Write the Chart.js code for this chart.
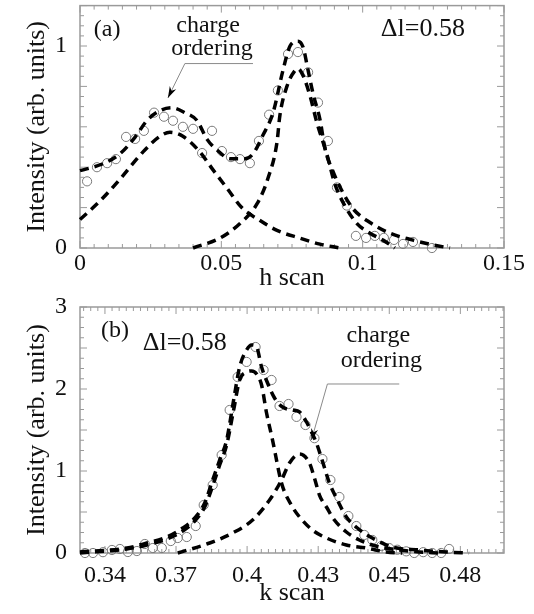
<!DOCTYPE html>
<html>
<head>
<meta charset="utf-8">
<script src="https://cdn.jsdelivr.net/npm/chart.js@4"></script>
<style>
  body { margin: 0; background: #fff; }
  canvas { position: absolute; left: 0; display: block; }
  #chartA { top: 0; }
  #chartB { top: 296px; }
</style>
</head>
<body>
<canvas id="chartA" width="534" height="296"></canvas>
<canvas id="chartB" width="534" height="318"></canvas>
<script>
// ---- (a) h scan ----
const hObs = [0.0025, 0.0060, 0.0096, 0.0127, 0.0163, 0.0195, 0.0226, 0.0262, 0.0297, 0.0329, 0.0364, 0.0400,
              0.0432, 0.0467, 0.0502, 0.0534, 0.0566, 0.0601, 0.0633, 0.0669, 0.0700, 0.0736, 0.0771, 0.0807,
              0.0842, 0.0877, 0.0909, 0.0944, 0.0976, 0.1012, 0.1043, 0.1075, 0.1111, 0.1143, 0.1178, 0.1245];
const intObsA = [0.33, 0.40, 0.42, 0.44, 0.55, 0.54, 0.58, 0.67, 0.65, 0.63, 0.60, 0.59,
                 0.47, 0.58, 0.48, 0.45, 0.44, 0.42, 0.53, 0.66, 0.78, 0.96, 0.97, 0.87,
                 0.72, 0.53, 0.30, 0.21, 0.06, 0.05, 0.06, 0.05, 0.04, 0.02, 0.03, 0.0];

const hSum = [0, 0.0081, 0.0141, 0.0195, 0.0237, 0.0283, 0.0325, 0.0371, 0.0414, 0.0449, 0.0485, 0.0531,
              0.0584, 0.0612, 0.0647, 0.0683, 0.0718, 0.0743, 0.0771, 0.0789, 0.0807, 0.0824, 0.0849, 0.0867,
              0.0895, 0.0927, 0.0966, 0.1026, 0.1097, 0.1178, 0.1249, 0.1309];
const intSumA = [0.383, 0.417, 0.466, 0.549, 0.631, 0.68, 0.694, 0.67, 0.631, 0.539, 0.485, 0.442,
                 0.442, 0.466, 0.558, 0.67, 0.879, 1.0, 1.024, 0.995, 0.879, 0.767, 0.636, 0.49,
                 0.379, 0.282, 0.194, 0.126, 0.073, 0.039, 0.015, 0.0];

const hCO = [0, 0.0071, 0.0141, 0.0223, 0.0283, 0.0318, 0.0364, 0.0424, 0.0470, 0.0520, 0.0573, 0.0637,
             0.0697, 0.0778, 0.0849, 0.0920];
const intCOA = [0.141, 0.233, 0.340, 0.476, 0.553, 0.573, 0.553, 0.476, 0.388, 0.296, 0.199, 0.136,
                0.087, 0.049, 0.019, 0.0];

const hPeak = [0.040, 0.0495, 0.0566, 0.0626, 0.0665, 0.0697, 0.0707, 0.0732, 0.0761, 0.0771, 0.0789, 0.0814,
               0.0838, 0.0874, 0.0902, 0.0937, 0.098, 0.1026, 0.1072, 0.1114];
const intPeakA = [0, 0.049, 0.121, 0.218, 0.345, 0.524, 0.655, 0.80, 0.879, 0.888, 0.854, 0.752,
                  0.621, 0.461, 0.316, 0.209, 0.121, 0.073, 0.039, 0.0];

const hTicks = [0, 0.05, 0.1, 0.15];
const hTickLabels = ['0', '0.05', '0.1', '0.15'];
const yTicksA = [0, 1];
const yTickLabelsA = ['0', '1'];

// ---- (b) k scan ----
const kObs = [0.332, 0.3352, 0.3392, 0.3428, 0.346, 0.3492, 0.3528, 0.356, 0.3592, 0.3628, 0.3664, 0.3692,
              0.3728, 0.3764, 0.3796, 0.3832, 0.3868, 0.39, 0.3932, 0.3968, 0.4004, 0.4036, 0.4068, 0.41,
              0.4136, 0.4168, 0.4204, 0.424, 0.4272, 0.4304, 0.434, 0.4376, 0.4408, 0.444, 0.4472, 0.4508,
              0.454, 0.4572, 0.4608, 0.464, 0.4676, 0.4712, 0.4748, 0.478];
const intObsB = [0, 0, 0.01, 0.037, 0.049, 0.012, 0.024, 0.11, 0.061, 0.061, 0.146, 0.183,
                 0.195, 0.329, 0.585, 0.829, 1.195, 1.744, 2.146, 2.33, 2.512, 2.232, 2.11, 1.793,
                 1.817, 1.66, 1.561, 1.40, 1.146, 0.89, 0.683, 0.451, 0.329, 0.22, 0.159, 0.085,
                 0.06, 0.04, 0.02, 0, 0.01, 0, 0, 0.049];

const kSum = [0.33, 0.3488, 0.3568, 0.3648, 0.3712, 0.376, 0.38, 0.3832, 0.386, 0.3888, 0.3916, 0.394,
              0.3968, 0.3988, 0.4008, 0.4028, 0.4052, 0.408, 0.4112, 0.4152, 0.418, 0.4208, 0.4228, 0.4248,
              0.4268, 0.43, 0.4332, 0.4368, 0.4412, 0.4472, 0.4552, 0.466, 0.4768, 0.486];
const intSumB = [0.012, 0.061, 0.122, 0.195, 0.305, 0.427, 0.61, 0.89, 1.134, 1.378, 1.866, 2.268,
                 2.476, 2.537, 2.512, 2.268, 2.073, 1.89, 1.78, 1.744, 1.72, 1.598, 1.476, 1.341,
                 1.159, 0.854, 0.646, 0.439, 0.305, 0.183, 0.073, 0.037, 0.012, 0.0];

const kPeak = [0.33, 0.3488, 0.3568, 0.3648, 0.3712, 0.376, 0.38, 0.3832, 0.386, 0.3888, 0.3916, 0.394,
               0.3968, 0.3988, 0.4008, 0.4028, 0.4048, 0.4072, 0.4108, 0.4152, 0.418, 0.4232, 0.4288, 0.4368,
               0.4448, 0.4528, 0.4592];
const intPeakB = [0.0, 0.049, 0.098, 0.171, 0.268, 0.39, 0.561, 0.817, 1.073, 1.317, 1.744, 2.11,
                  2.207, 2.22, 2.183, 2.049, 1.707, 1.378, 0.854, 0.561, 0.44, 0.28, 0.183, 0.098,
                  0.061, 0.012, 0.0];

const kCO = [0.3692, 0.382, 0.3912, 0.3992, 0.406, 0.4108, 0.414, 0.418, 0.422, 0.424, 0.426, 0.4288,
             0.432, 0.4368, 0.442, 0.45, 0.458, 0.466, 0.474];
const intCOB = [0.0, 0.122, 0.244, 0.402, 0.646, 0.89, 1.098, 1.207, 1.098, 0.915, 0.707, 0.561,
                0.402, 0.256, 0.159, 0.073, 0.037, 0.012, 0.0];

const kTicks = [0.34, 0.3685, 0.397, 0.4255, 0.454, 0.4825];
const kTickLabels = ['0.34', '0.37', '0.4', '0.43', '0.45', '0.48'];
const yTicksB = [0, 1, 2, 3];
const yTickLabelsB = ['0', '1', '2', '3'];

const SERIF = "'Liberation Serif', 'DejaVu Serif', serif";
const INK = '#111';
const FRAME = '#9a9a9a';

function pts(xs, ys) {
    return xs.map((x, i) => ({ x: x, y: ys[i] }));
}

function dashed(xs, ys) {
    return {
        data: pts(xs, ys),
        showLine: true,
        borderColor: '#000',
        borderWidth: 3.5,
        borderDash: [9, 6],
        pointRadius: 0,
        cubicInterpolationMode: 'monotone',
        clip: false
    };
}

function circles(xs, ys) {
    return {
        data: pts(xs, ys),
        showLine: false,
        pointRadius: 4.6,
        pointBorderWidth: 1,
        pointBorderColor: '#7a7a7a',
        pointBackgroundColor: 'rgba(0,0,0,0)',
        clip: false
    };
}

// frame with small inward ticks on all four sides
const framePlugin = {
    id: 'frame',
    beforeDatasetsDraw(chart, args, opts) {
        const { ctx, chartArea: a } = chart;
        const xs = chart.scales.x, ys = chart.scales.y;
        ctx.save();
        ctx.strokeStyle = FRAME;
        ctx.lineWidth = 1.5;
        ctx.strokeRect(a.left, a.top, a.right - a.left, a.bottom - a.top);
        ctx.lineWidth = 1;
        ctx.beginPath();
        function marks(scale, anchor, step, every, horiz) {
            const i0 = Math.ceil((scale.min - anchor) / step - 1e-6);
            const i1 = Math.floor((scale.max - anchor) / step + 1e-6);
            for (let i = i0; i <= i1; i++) {
                const p = scale.getPixelForValue(anchor + i * step);
                const len = (i % every === 0) ? 7 : 4;
                if (horiz) {
                    ctx.moveTo(p, a.bottom); ctx.lineTo(p, a.bottom - len);
                    ctx.moveTo(p, a.top); ctx.lineTo(p, a.top + len);
                } else {
                    ctx.moveTo(a.left, p); ctx.lineTo(a.left + len, p);
                    ctx.moveTo(a.right, p); ctx.lineTo(a.right - len, p);
                }
            }
        }
        marks(xs, opts.x[0], opts.x[1], opts.x[2], true);
        marks(ys, opts.y[0], opts.y[1], opts.y[2], false);
        ctx.stroke();
        ctx.restore();
    }
};

// panel labels and the "charge ordering" pointer
const notesPlugin = {
    id: 'notes',
    afterDatasetsDraw(chart, args, opts) {
        const { ctx } = chart;
        const xs = chart.scales.x, ys = chart.scales.y;
        const P = (v) => [xs.getPixelForValue(v[0]), ys.getPixelForValue(v[1])];
        ctx.save();
        ctx.fillStyle = INK;
        ctx.textAlign = 'center';
        ctx.textBaseline = 'middle';
        opts.texts.forEach(t => {
            const p = P(t.at);
            ctx.font = t.size + 'px ' + SERIF;
            ctx.fillText(t.text, p[0], p[1]);
        });
        const tip = P(opts.arrow[0]), corner = P(opts.arrow[1]), end = P(opts.arrow[2]);
        ctx.strokeStyle = '#8a8a8a';
        ctx.lineWidth = 1;
        ctx.beginPath();
        ctx.moveTo(end[0], end[1]);
        ctx.lineTo(corner[0], corner[1]);
        ctx.lineTo(tip[0], tip[1]);
        ctx.stroke();
        const ang = Math.atan2(tip[1] - corner[1], tip[0] - corner[0]);
        ctx.fillStyle = '#000';
        ctx.beginPath();
        ctx.moveTo(tip[0], tip[1]);
        ctx.lineTo(tip[0] - 12 * Math.cos(ang - 0.3), tip[1] - 12 * Math.sin(ang - 0.3));
        ctx.lineTo(tip[0] - 8 * Math.cos(ang), tip[1] - 8 * Math.sin(ang));
        ctx.lineTo(tip[0] - 12 * Math.cos(ang + 0.3), tip[1] - 12 * Math.sin(ang + 0.3));
        ctx.closePath();
        ctx.fill();
        ctx.restore();
    }
};

function makePanel(id, cfg) {
    const tickFont = { family: SERIF, size: 24 };
    const titleFont = { family: SERIF, size: 26 };
    return new Chart(document.getElementById(id), {
        type: 'scatter',
        data: { datasets: cfg.datasets },
        options: {
            responsive: false,
            animation: false,
            devicePixelRatio: 1,
            layout: { padding: { top: cfg.top, right: 30, left: 0, bottom: 0 } },
            plugins: {
                legend: { display: false },
                tooltip: { enabled: false },
                frame: cfg.frame,
                notes: cfg.notes
            },
            scales: {
                x: {
                    type: 'linear',
                    min: cfg.xRange[0],
                    max: cfg.xRange[1],
                    afterBuildTicks: s => { s.ticks = cfg.xTicks.map(v => ({ value: v })); },
                    afterFit: s => { s.height = cfg.xHeight; s.paddingLeft = 0; s.paddingRight = 0; },
                    ticks: {
                        font: tickFont, color: INK, padding: cfg.xPad, maxRotation: 0, autoSkip: false,
                        callback: (v, i) => cfg.xLabels[i]
                    },
                    grid: { display: false, drawTicks: false },
                    border: { display: false },
                    title: { display: true, text: cfg.xTitle, font: titleFont, color: INK, padding: { top: 0, bottom: cfg.xTitlePad } }
                },
                y: {
                    type: 'linear',
                    min: cfg.yRange[0],
                    max: cfg.yRange[1],
                    afterBuildTicks: s => { s.ticks = cfg.yTicks.map(v => ({ value: v })); },
                    afterFit: s => { s.width = 80; s.paddingTop = 0; s.paddingBottom = 0; },
                    ticks: {
                        font: tickFont, color: INK, padding: 13, autoSkip: false,
                        callback: (v, i) => cfg.yLabels[i]
                    },
                    grid: { display: false, drawTicks: false },
                    border: { display: false },
                    title: { display: true, text: 'Intensity (arb. units)', font: titleFont, color: INK, padding: { top: 22, bottom: 0 } }
                }
            }
        },
        plugins: [framePlugin, notesPlugin]
    });
}

makePanel('chartA', {
    datasets: [
        dashed(hSum, intSumA),
        dashed(hCO, intCOA),
        dashed(hPeak, intPeakA),
        circles(hObs, intObsA)
    ],
    top: 2,
    xRange: [0, 0.15],
    yRange: [0, 1.2],
    xTicks: hTicks,
    xLabels: hTickLabels,
    yTicks: yTicksA,
    yLabels: yTickLabelsA,
    xTitle: 'h scan',
    xHeight: 48,
    xPad: 1,
    xTitlePad: 2,
    frame: { x: [0, 0.005, 10], y: [0, 0.05, 4] },
    notes: {
        texts: [
            { text: '(a)', at: [0.0096, 1.083], size: 24 },
            { text: '\u0394l=0.58', at: [0.1213, 1.083], size: 26 },
            { text: 'charge', at: [0.0453, 1.10], size: 24 },
            { text: 'ordering', at: [0.0467, 0.985], size: 24 }
        ],
        arrow: [[0.0311, 0.743], [0.0371, 0.913], [0.0612, 0.913]]
    }
});

makePanel('chartB', {
    datasets: [
        dashed(kSum, intSumB),
        dashed(kPeak, intPeakB),
        dashed(kCO, intCOB),
        circles(kObs, intObsB)
    ],
    top: 11,
    xRange: [0.33, 0.50],
    yRange: [0, 3],
    xTicks: kTicks,
    xLabels: kTickLabels,
    yTicks: yTicksB,
    yLabels: yTickLabelsB,
    xTitle: 'k scan',
    xHeight: 61,
    xPad: 8,
    xTitlePad: 5,
    frame: { x: [0.34, 0.00285, 10], y: [0, 0.125, 4] },
    notes: {
        texts: [
            { text: '(b)', at: [0.344, 2.707], size: 24 },
            { text: '\u0394l=0.58', at: [0.372, 2.561], size: 26 },
            { text: 'charge', at: [0.4496, 2.646], size: 24 },
            { text: 'ordering', at: [0.4508, 2.341], size: 24 }
        ],
        arrow: [[0.4228, 1.378], [0.4292, 2.061], [0.458, 2.061]]
    }
});
</script>
</body>
</html>
